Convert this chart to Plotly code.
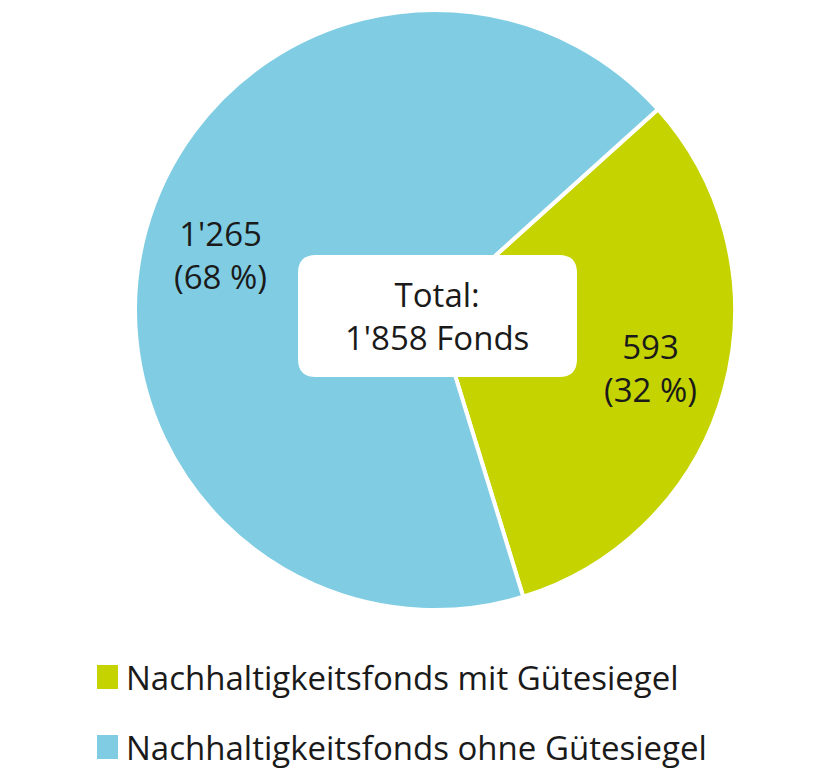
import plotly.graph_objects as go

categories = ["Nachhaltigkeitsfonds mit Gütesiegel", "Nachhaltigkeitsfonds ohne Gütesiegel"]
values = [593, 1265]
value_labels = ["593<br>(32 %)", "1'265<br>(68 %)"]
total_label = "Total:<br>1'858 Fonds"
colors = ["#c5d300", "#80cde3"]

W, H = 816, 775
OFF = 8  # page body margin
def px(x): return (x - OFF) / W
def py(y): return 1 - (y - OFF) / H

fig = go.Figure(go.Pie(
    labels=categories, values=values, sort=False, direction="clockwise",
    rotation=48, textinfo="none", hoverinfo="label+value",
    marker=dict(colors=colors, line=dict(color="white", width=4)),
    domain=dict(x=[px(135), px(735)], y=[py(610), py(10)]),
    showlegend=False,
))

font = dict(family="Open Sans, Lato, sans-serif", size=33, color="#1a1a1a")

def label(x, y, text, **kw):
    fig.add_annotation(x=px(x), y=py(y), text=text, showarrow=False,
                       xref="paper", yref="paper", font=font,
                       xanchor=kw.get("xanchor", "center"), yanchor="middle")

label(650, 368, value_labels[0])
label(220, 255, value_labels[1])

# centre box with rounded corners
x0, x1, y0, y1, r = 298, 577, 255, 377, 18
path = (f"M {x0+r},{y0} L {x1-r},{y0} Q {x1},{y0} {x1},{y0+r} L {x1},{y1-r} "
        f"Q {x1},{y1} {x1-r},{y1} L {x0+r},{y1} Q {x0},{y1} {x0},{y1-r} "
        f"L {x0},{y0+r} Q {x0},{y0} {x0+r},{y0} Z")
def conv(tok):
    if "," in tok:
        a, b = tok.split(",")
        return f"{px(float(a)):.5f},{py(float(b)):.5f}"
    return tok
path = " ".join(conv(t) for t in path.split())
fig.add_shape(type="path", path=path, xref="paper", yref="paper",
              fillcolor="white", line=dict(width=0))
label(437, 316, total_label)

# legend
for i, (cat, col) in enumerate(zip(categories, colors)):
    yc = 677 + i * 70
    fig.add_shape(type="rect", xref="paper", yref="paper",
                  x0=px(97), x1=px(118), y0=py(yc + 12), y1=py(yc - 12),
                  fillcolor=col, line=dict(width=0))
    label(124, yc, cat, xanchor="left")

fig.update_layout(width=W, height=H, margin=dict(l=0, r=0, t=0, b=0),
                  paper_bgcolor="white", plot_bgcolor="white")
fig.write_html("out.html")
